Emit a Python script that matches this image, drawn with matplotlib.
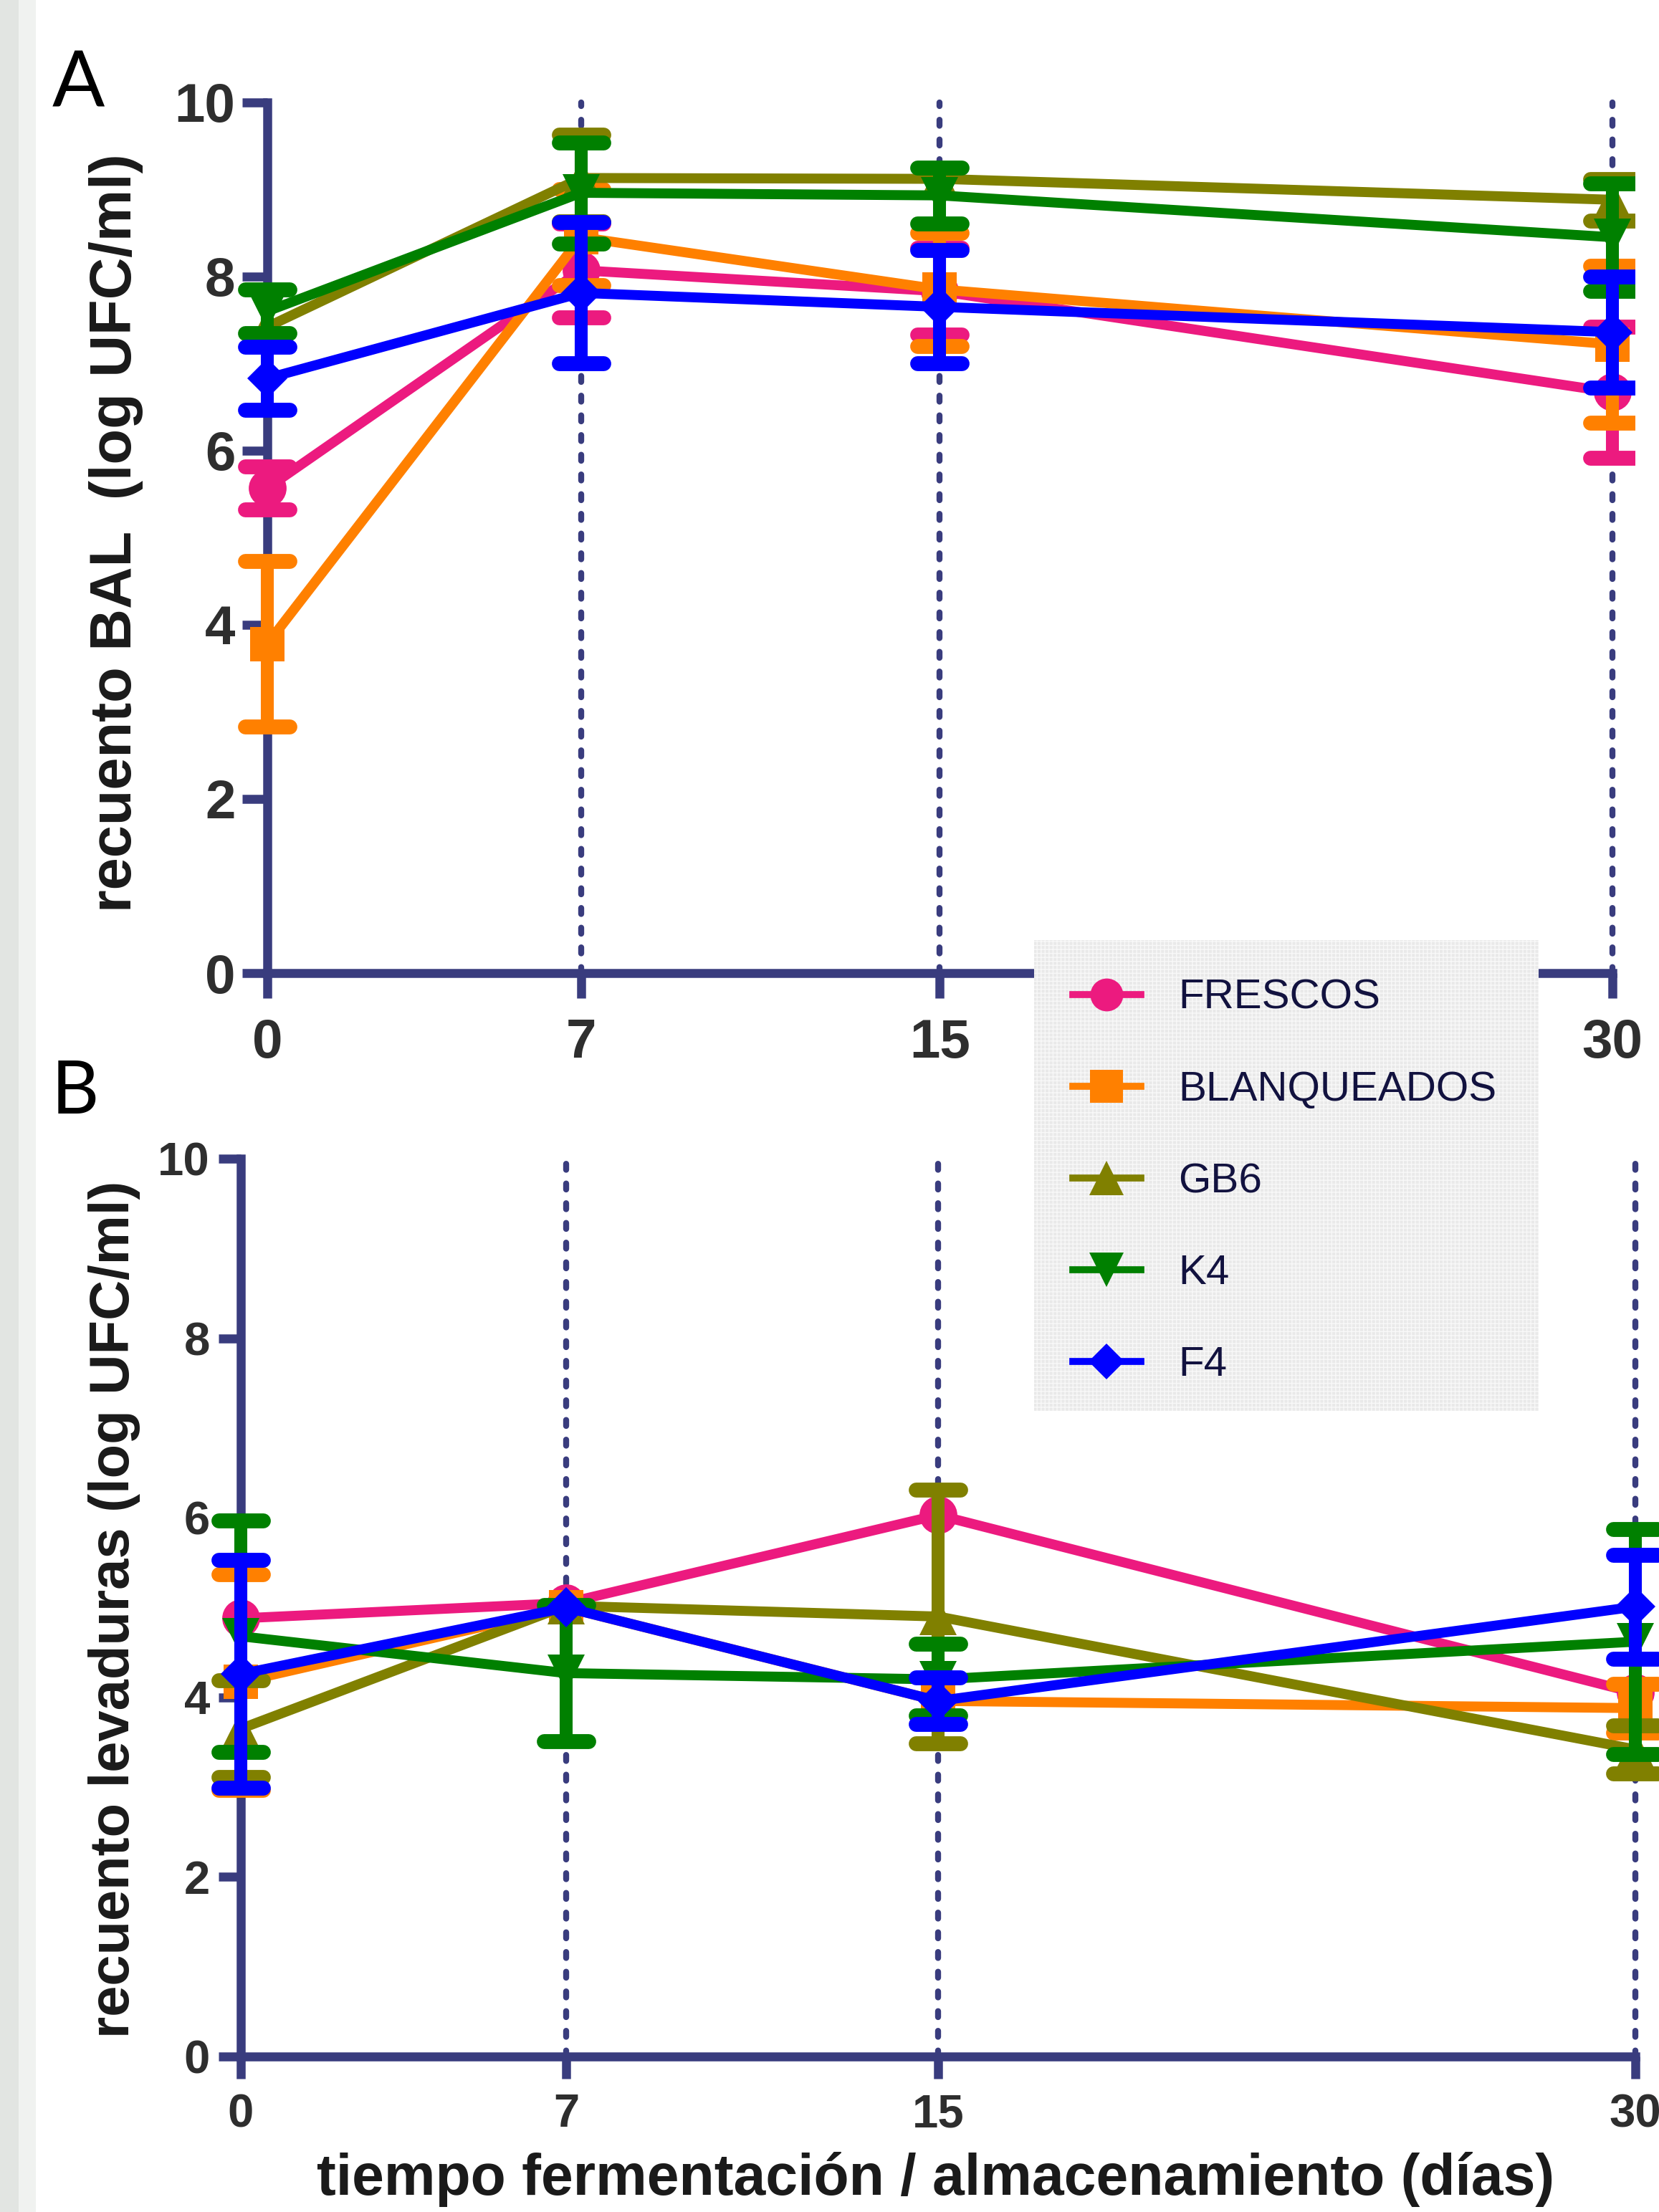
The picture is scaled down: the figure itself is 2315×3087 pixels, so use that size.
import numpy as np
import matplotlib.pyplot as plt
from matplotlib.markers import MarkerStyle
from matplotlib.patches import Rectangle
from matplotlib.lines import Line2D

plt.rcParams['font.family'] = ['Liberation Sans', 'DejaVu Sans']
plt.rcParams['font.weight'] = 'bold'
plt.rcParams['hatch.linewidth'] = 1.0

dias = [0, 7, 15, 30]
grupos = ['FRESCOS', 'BLANQUEADOS', 'GB6', 'K4', 'F4']
colores = ['#ec1a7f', '#ff8000', '#808000', '#008000', '#0000ff']
marcadores = ['o', 's', '^', 'v', 'D']
tam_marc = [38, 35, 38, 38, 29]

# A: recuento BAL (log UFC/ml), media y desviacion (nan = barra no visible)
bal_frescos = [5.57, 8.07, 7.83, 6.67]
bal_frescos_de = [0.25, 0.54, 0.50, 0.75]
bal_blanq = [3.78, 8.45, 7.85, 7.22]
bal_blanq_de = [0.95, 0.55, 0.65, 0.90]
bal_gb6 = [7.42, 9.13, 9.12, 8.88]
bal_gb6_de = [np.nan, 0.50, np.nan, 0.24]
bal_k4 = [7.60, 8.96, 8.93, 8.45]
bal_k4_de = [0.25, 0.58, 0.32, 0.62]
bal_f4 = [6.83, 7.81, 7.65, 7.36]
bal_f4_de = [0.36, 0.81, 0.65, 0.64]

# B: recuento levaduras (log UFC/ml)
lev_frescos = [4.88, 5.05, 6.03, 4.05]
lev_frescos_de = [np.nan, np.nan, np.nan, np.nan]
lev_blanq = [4.17, 5.00, 3.96, 3.88]
lev_blanq_de = [1.20, np.nan, np.nan, 0.27]
lev_gb6 = [3.65, 5.02, 4.90, 3.42]
lev_gb6_de = [0.54, np.nan, 1.41, 0.27]
lev_k4 = [4.68, 4.27, 4.20, 4.62]
lev_k4_de = [1.29, 0.76, 0.40, 1.25]
lev_f4 = [4.26, 5.00, 3.96, 5.01]
lev_f4_de = [1.27, np.nan, 0.26, 0.58]

yticks = [0, 2, 4, 6, 8, 10]
navy = '#393c7e'

fig = plt.figure(figsize=(23.15, 30.87), dpi=100)

# franja gris a la izquierda
fig.add_artist(Rectangle((0, 0), 26 / 2315, 1, transform=fig.transFigure,
                         facecolor='#e2e5e2', edgecolor='none', zorder=0))
fig.add_artist(Rectangle((26 / 2315, 0), 24 / 2315, 1, transform=fig.transFigure,
                         facecolor='#f0f2f0', edgecolor='none', zorder=0))


def panel(ax, medias, des, tick_size, tick_len, xpad, ypad):
    ax.set_xlim(-1, 30.5)
    ax.set_ylim(-0.5, 10.3)
    ax.patch.set_alpha(0)
    vl = ax.vlines(dias[1:], 0, 10, colors=navy, linewidth=6,
                   linestyles=(0, (1.0, 2.3)), zorder=1)
    vl.set_capstyle('round')
    for i in range(len(grupos)):
        eb = ax.errorbar(dias, medias[i], yerr=des[i], color=colores[i],
                         marker=marcadores[i], ms=tam_marc[i], lw=10,
                         elinewidth=13, capsize=26, capthick=15, zorder=3 + i)
        eb.lines[0].set_markeredgewidth(0)
        for cap in eb.lines[1]:
            cap.set_marker(MarkerStyle('_', capstyle='round'))
            cap.set_markersize(44)
            cap.set_markeredgewidth(15)
            cap.set_markeredgecolor(colores[i])
        for bl in eb.lines[2]:
            bl.set_capstyle('butt')
    for s in ['top', 'right']:
        ax.spines[s].set_visible(False)
    ax.spines['left'].set_position(('data', 0))
    ax.spines['bottom'].set_position(('data', 0))
    ax.spines['left'].set_bounds(0, 10)
    ax.spines['bottom'].set_bounds(0, 30)
    for s in ['left', 'bottom']:
        ax.spines[s].set_linewidth(9)
        ax.spines[s].set_color(navy)
        ax.spines[s].set_capstyle('projecting')
        ax.spines[s].set_zorder(2)
    ax.set_xticks(dias)
    ax.set_yticks(yticks)
    ax.tick_params(direction='out', length=tick_len, width=9, color=navy,
                   labelsize=tick_size, labelcolor='#2e2e2e')
    ax.tick_params(axis='x', pad=xpad)
    ax.tick_params(axis='y', pad=ypad)


ax_a = fig.add_axes([0.1341, 0.5404, 0.8512, 0.4252])
panel(ax_a,
      [bal_frescos, bal_blanq, bal_gb6, bal_k4, bal_f4],
      [bal_frescos_de, bal_blanq_de, bal_gb6_de, bal_k4_de, bal_f4_de],
      55, 25, 20, 7)

ax_b = fig.add_axes([0.1171, 0.05, 0.8827, 0.4384])
panel(ax_b,
      [lev_frescos, lev_blanq, lev_gb6, lev_k4, lev_f4],
      [lev_frescos_de, lev_blanq_de, lev_gb6_de, lev_k4_de, lev_f4_de],
      47, 22, 15, 9)

fig.text(0.070, 0.759, 'recuento BAL  (log UFC/ml)', rotation=90, ha='center',
         va='center', fontsize=58.5, color='#1a1a1a')
fig.text(0.069, 0.2724, 'recuento levaduras (log UFC/ml)', rotation=90,
         ha='center', va='center', fontsize=56, color='#1a1a1a')
fig.text(0.5641, 0.0078, 'tiempo fermentación / almacenamiento (días)',
         ha='center', va='baseline', fontsize=58, color='#1a1a1a')

fig.text(0.0315, 0.952, 'A', ha='left', va='baseline', fontsize=78,
         fontweight='normal', family=['Lato', 'DejaVu Sans'], color='black')
fig.text(0.031, 0.4966, 'B', ha='left', va='baseline', fontsize=74,
         fontweight='normal', family=['Lato', 'DejaVu Sans'], color='black')

# leyenda con fondo texturizado
fig.add_artist(Rectangle((1443 / 2315, 1 - 1969 / 3087), 704 / 2315, 657 / 3087,
                         transform=fig.transFigure, facecolor='#e9e9e9',
                         edgecolor='#f8f8f8', hatch='+++', linewidth=0, zorder=20))
handles = [Line2D([], [], color=colores[i], marker=marcadores[i], lw=7,
                  ms=[33, 33, 34, 34, 25][i], mew=0) for i in range(len(grupos))]
leg = fig.legend(handles, grupos, loc='upper left',
                 bbox_to_anchor=(1497 / 2315, 1 - 1366 / 3087),
                 bbox_transform=fig.transFigure, frameon=False, borderpad=0,
                 borderaxespad=0, handlelength=1.62, handletextpad=0.9,
                 labelspacing=1.27, numpoints=1,
                 prop={'family': 'Liberation Sans', 'weight': 'normal', 'size': 42},
                 labelcolor='#12123f')
leg.set_zorder(21)

fig.savefig('out.png', dpi=100)
